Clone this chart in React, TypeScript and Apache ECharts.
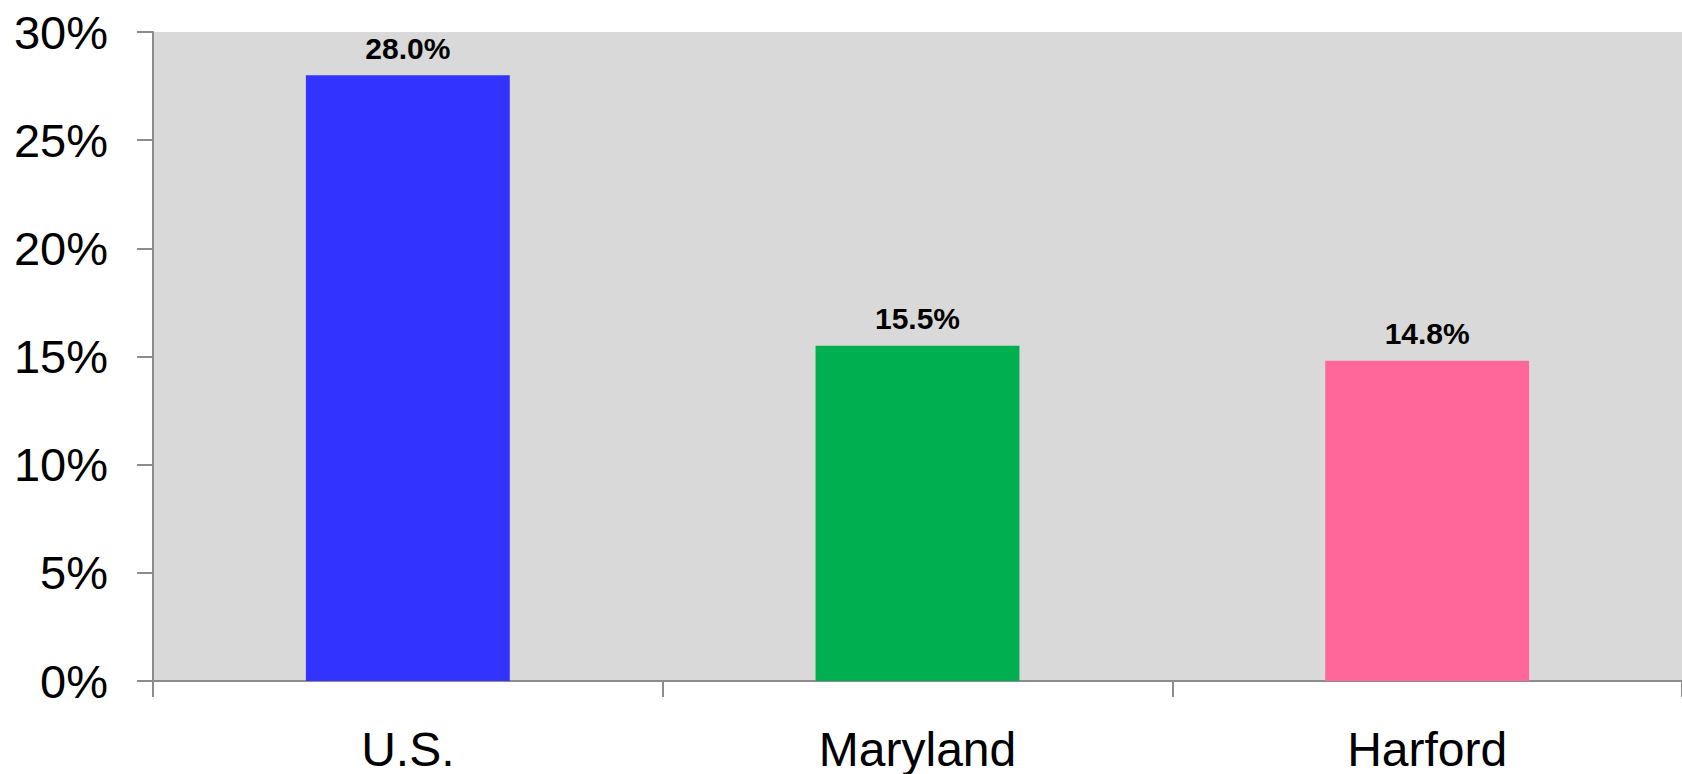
import React, { useEffect, useRef } from "react";
import * as echarts from "echarts";

const categories = ["U.S.", "Maryland", "Harford"];
const values = [28.0, 15.5, 14.8];
const barColors = ["#3333FF", "#00B050", "#FF6699"];
const yTicks = [0, 5, 10, 15, 20, 25, 30];

export default function App() {
  const ref = useRef<HTMLDivElement>(null);
  useEffect(() => {
    document.body.style.margin = "0";
    const chart = echarts.init(ref.current!, null, { renderer: "svg" });
    const axisColor = "#8c8c8c";
    chart.setOption({
      animation: false,
      backgroundColor: "#ffffff",
      textStyle: { fontFamily: "Liberation Sans, Arial, sans-serif" },
      grid: {
        left: 153,
        right: 0,
        top: 32,
        bottom: 93,
        show: true,
        backgroundColor: "#D9D9D9",
        borderWidth: 0,
      },
      xAxis: {
        type: "category",
        data: categories,
        boundaryGap: true,
        axisLine: { show: true, lineStyle: { color: axisColor, width: 2 } },
        axisTick: { show: true, length: 16, lineStyle: { color: axisColor, width: 2 } },
        axisLabel: {
          color: "#000000",
          fontSize: 48,
          lineHeight: 44,
          margin: 46,
          fontFamily: "Liberation Sans, Arial, sans-serif",
        },
        splitLine: { show: false },
      },
      yAxis: {
        type: "value",
        min: yTicks[0],
        max: yTicks[yTicks.length - 1],
        interval: 5,
        axisLine: { show: true, lineStyle: { color: axisColor, width: 2 } },
        axisTick: { show: true, length: 16, lineStyle: { color: axisColor, width: 2 } },
        axisLabel: {
          color: "#000000",
          fontSize: 47,
          margin: 45,
          formatter: (v: number) => `${v}%`,
          fontFamily: "Liberation Sans, Arial, sans-serif",
        },
        splitLine: { show: false },
      },
      series: [
        {
          type: "bar",
          barWidth: "40%",
          data: values.map((v, i) => ({ value: v, itemStyle: { color: barColors[i] } })),
          label: {
            show: true,
            position: "top",
            distance: 12,
            color: "#000000",
            fontSize: 30,
            fontWeight: "bold",
            fontFamily: "Liberation Sans, Arial, sans-serif",
            formatter: (p: any) => `${Number(p.value).toFixed(1)}%`,
          },
        },
      ],
    });
    return () => chart.dispose();
  }, []);
  return <div ref={ref} style={{ width: 1682, height: 774 }} />;
}
